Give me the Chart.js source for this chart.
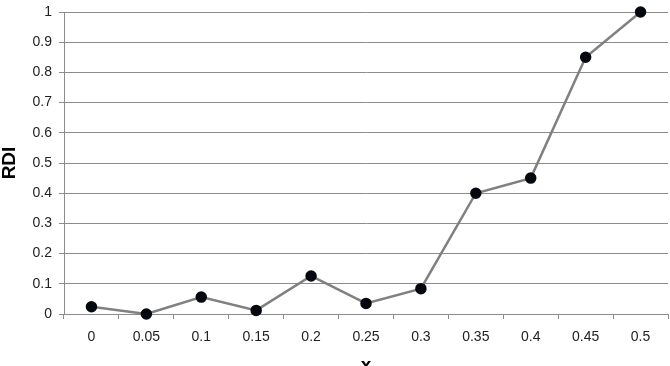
<!DOCTYPE html>
<html>
<head>
<meta charset="utf-8">
<script src="https://cdn.jsdelivr.net/npm/chart.js@4/dist/chart.umd.min.js"></script>
<style>
  html, body { margin: 0; padding: 0; background: #fff; overflow: hidden; }
  #wrap { width: 670px; height: 366px; }
</style>
</head>
<body>
<div id="wrap"><canvas id="grafico"></canvas></div>
<script>
// dados
const categoriasX = ['0', '0.05', '0.1', '0.15', '0.2', '0.25', '0.3', '0.35', '0.4', '0.45', '0.5'];
const valoresRDI = [0.024, 0.0, 0.056, 0.012, 0.126, 0.035, 0.084, 0.40, 0.45, 0.85, 1.0];

const fonteTicks = { family: '"Liberation Sans", Arial, sans-serif', size: 14 };
const fonteTitulo = { family: '"Liberation Sans", Arial, sans-serif', size: 19, weight: 'bold' };

new Chart(document.getElementById('grafico'), {
    type: 'line',
    data: {
        labels: categoriasX,
        datasets: [{
            data: valoresRDI,
            borderColor: '#808080',
            borderWidth: 2.5,
            pointBackgroundColor: '#05080f',
            pointBorderColor: '#05080f',
            pointRadius: 4.5,
            tension: 0,
            clip: false
        }]
    },
    options: {
        responsive: true,
        maintainAspectRatio: false,
        animation: false,
        layout: { autoPadding: false, padding: { top: 12, right: 2, left: 0, bottom: 0 } },
        plugins: {
            legend: { display: false },
            tooltip: { enabled: false }
        },
        scales: {
            x: {
                offset: true,
                grid: {
                    offset: true,
                    drawOnChartArea: false,
                    drawTicks: true,
                    tickLength: 5,
                    color: '#8c8c8c'
                },
                border: { color: '#8c8c8c', width: 1 },
                ticks: { color: '#222', font: fonteTicks, padding: 10, maxRotation: 0 },
                title: {
                    display: true,
                    text: 'x',
                    color: '#000',
                    font: fonteTitulo,
                    padding: { top: 0, bottom: -11 }
                },
                afterFit: (escala) => { escala.height = 52; }
            },
            y: {
                min: 0,
                max: 1,
                grid: {
                    color: '#8c8c8c',
                    tickLength: 5
                },
                border: { color: '#8c8c8c', width: 1 },
                ticks: {
                    stepSize: 0.1,
                    color: '#222',
                    font: fonteTicks,
                    padding: 7,
                    callback: (valor) => String(Math.round(valor * 10) / 10)
                },
                title: {
                    display: true,
                    text: 'RDI',
                    color: '#000',
                    font: fonteTitulo,
                    padding: { top: -2, bottom: 0 }
                },
                afterFit: (escala) => {
                    escala.width = 64;
                    escala.paddingTop = 0;
                    escala.paddingBottom = 0;
                }
            }
        }
    }
});
</script>
</body>
</html>
